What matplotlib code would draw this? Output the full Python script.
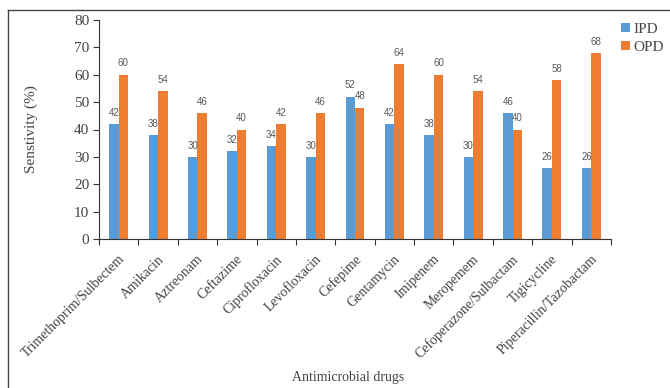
import matplotlib
matplotlib.use("Agg")
import matplotlib.pyplot as plt
from matplotlib.lines import Line2D
import numpy as np

drugs = ["Trimethoprim/Sulbectem", "Amikacin", "Aztreonam", "Ceftazime",
         "Ciprofloxacin", "Levofloxacin", "Cefepime", "Gentamycin",
         "Imipenem", "Meropemem", "Cefoperazone/Sulbactam", "Tigicycline",
         "Piperacillin/Tazobactam"]
ipd = [42, 38, 30, 32, 34, 30, 52, 42, 38, 30, 46, 26, 26]
opd = [60, 54, 46, 40, 42, 46, 48, 64, 60, 54, 40, 58, 68]

blue = "#5B9BD5"
orange = "#ED7D31"
serif = "Liberation Serif"

fig = plt.figure(figsize=(6.7, 3.88), dpi=100)
ax = fig.add_axes([99 / 670, 1 - 239 / 388, 512 / 670, 219 / 388])

x = np.arange(len(drugs))
w = 0.24
b1 = ax.bar(x - w / 2, ipd, w, color=blue, label="IPD")
b2 = ax.bar(x + w / 2, opd, w, color=orange, label="OPD")

for bars in (b1, b2):
    for r in bars:
        ax.text(r.get_x() + r.get_width() / 2, r.get_height() + 2.3,
                str(int(r.get_height())), ha="center", va="bottom",
                fontsize=7, color="#595959", family="Liberation Sans")

ax.set_xlim(-0.5, len(drugs) - 0.5)
ax.set_ylim(0, 80)
ax.set_yticks(range(0, 81, 10))
ax.set_xticks(np.arange(len(drugs) + 1) - 0.5)
ax.set_xticklabels([])
ax.tick_params(axis="x", length=4, direction="out", color="#333333")
ax.tick_params(axis="y", length=4, direction="out", color="#333333",
               labelsize=11, pad=3)
for lab in ax.get_yticklabels():
    lab.set_family(serif)
    lab.set_color("#444444")

for i, name in enumerate(drugs):
    ax.text(i - 0.02, -5, name, rotation=45, ha="right", va="top",
            rotation_mode="anchor", fontsize=10, family=serif, color="#444444")

for s in ["top", "right"]:
    ax.spines[s].set_visible(False)
ax.spines["left"].set_color("#333333")
ax.spines["bottom"].set_color("#333333")

ax.set_ylabel("Senstivity (%)", family=serif, fontsize=11, color="#444444",
              labelpad=26)
fig.text(348 / 670, 1 - 377 / 388, "Antimicrobial drugs", ha="center",
         va="center", family=serif, fontsize=10, color="#444444")

leg = fig.legend(handles=[b1, b2], loc="upper left",
                 bbox_to_anchor=(607 / 670, 1 - 9 / 388), frameon=False,
                 prop={"family": serif, "size": 11}, handlelength=0.6,
                 handleheight=0.6, handletextpad=0.2, labelspacing=0.3)
for t in leg.get_texts():
    t.set_color("#444444")

fig.add_artist(Line2D([8 / 670, 8 / 670], [0, 1 - 10 / 388],
                      transform=fig.transFigure, color="#444444", lw=1))
fig.add_artist(Line2D([8 / 670, 1], [1 - 10 / 388, 1 - 10 / 388],
                      transform=fig.transFigure, color="#444444", lw=1))

fig.savefig("out.png", dpi=100)
